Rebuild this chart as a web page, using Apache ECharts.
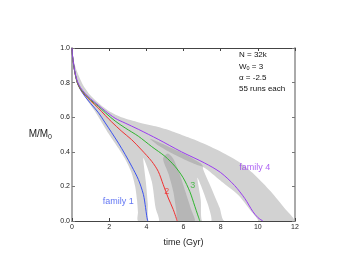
<!DOCTYPE html>
<html><head><meta charset="utf-8">
<script src="https://cdn.jsdelivr.net/npm/echarts@6/dist/echarts.min.js"></script>
<style>html,body{margin:0;padding:0;background:#fff}#c{width:360px;height:270px}</style>
</head><body><div id="c"></div>
<script>
// ---- data ----
const xTicks = [0, 2, 4, 6, 8, 10, 12];
const yTicks = [0, 0.2, 0.4, 0.6, 0.8, 1.0];

const family1 = [[0,1],[0.03,0.95],[0.07,0.915],[0.15,0.86],[0.28,0.80],[0.45,0.76],[0.7,0.72],[1.0,0.68],[1.43,0.625],[1.79,0.567],[2.14,0.51],[2.5,0.45],[2.86,0.385],[3.21,0.317],[3.57,0.24],[3.84,0.154],[3.96,0.077],[4.02,0.03],[4.07,0]];
const family2 = [[0,1],[0.03,0.95],[0.07,0.915],[0.15,0.86],[0.28,0.80],[0.45,0.762],[0.7,0.728],[1.0,0.695],[1.43,0.652],[1.79,0.61],[2.14,0.572],[2.68,0.518],[3.21,0.47],[3.75,0.41],[4.29,0.345],[4.64,0.287],[4.91,0.21],[5.18,0.133],[5.45,0.066],[5.66,0]];
const family3 = [[0,1],[0.03,0.952],[0.07,0.918],[0.15,0.862],[0.28,0.803],[0.45,0.765],[0.7,0.732],[1.0,0.70],[1.43,0.662],[1.79,0.626],[2.32,0.578],[2.86,0.538],[3.57,0.49],[4.29,0.43],[5.0,0.374],[5.54,0.316],[5.98,0.25],[6.34,0.17],[6.61,0.085],[6.75,0.04],[6.88,0]];
const family4 = [[0,1],[0.03,0.955],[0.07,0.922],[0.15,0.868],[0.28,0.81],[0.45,0.772],[0.7,0.738],[1.0,0.706],[1.43,0.668],[1.79,0.636],[2.32,0.594],[2.86,0.566],[3.57,0.53],[4.64,0.472],[5.89,0.40],[7.14,0.335],[8.0,0.28],[8.75,0.205],[9.3,0.13],[9.73,0.055],[10.0,0.02],[10.27,0]];

// spread of runs: outer envelope (slow edge, fast edge)
const slowEdge = [[0,1],[0.05,0.96],[0.12,0.915],[0.3,0.855],[0.6,0.785],[1.0,0.725],[1.5,0.675],[2.0,0.635],[2.7,0.598],[3.6,0.57],[4.5,0.547],[5.4,0.518],[6.25,0.484],[7.14,0.445],[8.04,0.399],[8.93,0.345],[9.82,0.268],[10.7,0.171],[11.43,0.075],[11.93,0]];
const fastEdge = [[0,1],[0.03,0.93],[0.08,0.89],[0.2,0.83],[0.4,0.77],[0.8,0.70],[1.2,0.64],[1.6,0.57],[2.0,0.50],[2.5,0.42],[2.9,0.35],[3.2,0.28],[3.4,0.2],[3.5,0.12],[3.55,0.05],[3.57,0]];
// uncovered gaps between family spreads
const gap1 = [[3.84,0.364],[3.97,0.23],[4.08,0.1],[4.12,0],[4.68,0],[4.5,0.075],[4.29,0.23]];
const gap2 = [[6.75,0.25],[6.93,0.12],[7.0,0],[7.5,0],[7.3,0.1]];
const gap3 = [[7.05,0.31],[7.5,0.19],[7.95,0.075],[8.2,0],[10.0,0],[9.64,0.056],[8.93,0.152],[8.04,0.229]];
// overlaps of two family spreads
const overlapA = [[5.15,0.39],[5.45,0.36],[5.8,0.27],[6.1,0.17],[6.4,0.07],[6.6,0],[5.72,0],[5.6,0.07],[5.45,0.17],[5.2,0.27],[4.9,0.36]];
const overlapB = [[4.2,0.475],[5.0,0.44],[6.0,0.39],[6.9,0.335],[7.05,0.315],[6.6,0.33],[5.5,0.385],[4.6,0.44]];

const labelTexts = ['family 1', '2', '3', 'family 4'];
const labelPos = [[2.49,0.113],[5.1,0.17],[6.5,0.205],[9.83,0.31]];
const colors = ['#3a52f0', '#f03030', '#2fb52f', '#9a3cf0'];
const infoLines = ['N = 32k', 'W{s|0} = 3', 'α = -2.5', '55 runs each'];

// ---- chart ----
const FONT = 'Liberation Sans';
const envelope = fastEdge.concat(slowEdge.slice().reverse());

function polySeries(polys, fill, z) {
  return {
    type: 'custom', coordinateSystem: 'cartesian2d', xAxisIndex: 0, yAxisIndex: 0,
    clip: true, silent: true, z: z,
    data: polys.map((p, i) => [i]),
    renderItem: function (params, api) {
      const pts = polys[params.dataIndex].map(p => api.coord(p));
      return { type: 'polygon', shape: { points: pts, smooth: 0.25 }, style: { fill: fill, stroke: null } };
    }
  };
}

const chart = echarts.init(document.getElementById('c'), null, { renderer: 'canvas' });
const axisCommon = { min: 0, splitLine: { show: false } };
const option = {
  animation: false,
  backgroundColor: '#fff',
  grid: { left: 72, top: 48, right: 65, bottom: 49 },
  xAxis: [
    Object.assign({ type: 'value', max: 12, interval: 2, position: 'bottom',
      axisLine: { show: true, onZero: false, lineStyle: { color: '#444', width: 1 } },
      axisTick: { show: true, inside: true, length: 3, lineStyle: { color: '#444' } },
      axisLabel: { fontSize: 7, color: '#222', margin: 3, fontFamily: FONT },
      name: 'time (Gyr)', nameLocation: 'middle', nameGap: 17,
      nameTextStyle: { fontSize: 9, color: '#222', fontFamily: FONT } }, axisCommon),
    Object.assign({ type: 'value', max: 12, interval: 2, position: 'top',
      axisLine: { show: true, onZero: false, lineStyle: { color: '#444', width: 1 } },
      axisTick: { show: true, inside: true, length: 3, lineStyle: { color: '#444' } },
      axisLabel: { show: false } }, axisCommon)
  ],
  yAxis: [
    Object.assign({ type: 'value', max: 1, interval: 0.2, position: 'left',
      axisLine: { show: true, onZero: false, lineStyle: { color: '#aaa', width: 2 } },
      axisTick: { show: true, inside: true, length: 3, lineStyle: { color: '#777' } },
      axisLabel: { fontSize: 7, color: '#222', margin: 2, fontFamily: FONT, formatter: v => v.toFixed(1) },
      name: 'M/M{s|0}', nameLocation: 'middle', nameRotate: 0, nameGap: 20,
      nameTextStyle: { fontSize: 10, color: '#222', fontFamily: FONT,
        rich: { s: { fontSize: 7, padding: [6, 0, 0, 0], color: '#222', fontFamily: FONT } } } }, axisCommon),
    Object.assign({ type: 'value', max: 1, interval: 0.2, position: 'right',
      axisLine: { show: true, onZero: false, lineStyle: { color: '#aaa', width: 2 } },
      axisTick: { show: true, inside: true, length: 3, lineStyle: { color: '#777' } },
      axisLabel: { show: false } }, axisCommon)
  ],
  graphic: infoLines.map((t, i) => ({
    type: 'text', left: 239, top: 51 + i * 11.3, z: 100,
    style: { text: t, fontSize: 8, fill: '#111', fontFamily: FONT,
      rich: { s: { fontSize: 5.5, padding: [4, 0, 0, 0], fill: '#111', fontFamily: FONT } } }
  })),
  series: [
    polySeries([envelope], '#d2d2d2', 1),
    polySeries([overlapA, overlapB], '#b6b6b6', 2),
    polySeries([gap1, gap2, gap3], '#ffffff', 3)
  ].concat([family1, family2, family3, family4].map((d, i) => ({
    type: 'line', data: d, smooth: 0.3, showSymbol: false, symbol: 'none', z: 5,
    lineStyle: { color: colors[i], width: 1 }, clip: true
  }))).concat([{
    type: 'scatter', symbolSize: 0, z: 6, silent: true,
    data: labelPos.map((p, i) => ({ value: p, label: { show: true, position: 'inside', formatter: labelTexts[i],
      color: colors[i], fontSize: 9, fontFamily: FONT } }))
  }])
};
chart.setOption(option);
</script></body></html>
